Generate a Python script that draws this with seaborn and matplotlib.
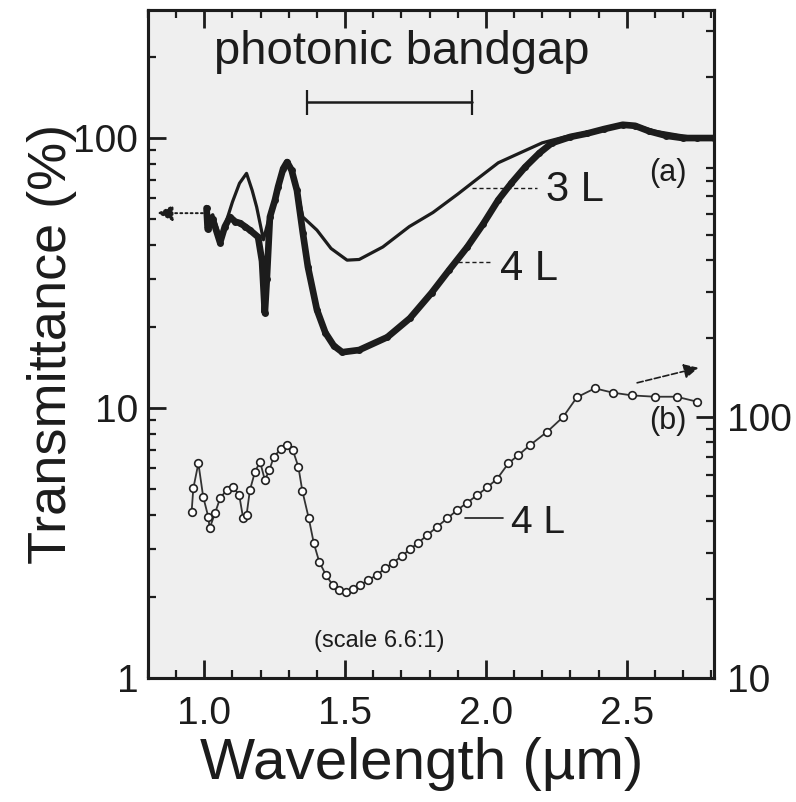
import matplotlib
matplotlib.use("Agg")
import matplotlib.pyplot as plt
import seaborn as sns
from matplotlib.ticker import MultipleLocator, LogLocator, NullFormatter, FixedLocator, FixedFormatter

# ---------------- data ----------------
# curve (a), 3 layers (thin line), transmittance in %
wl_3L = [1.008, 1.03, 1.056, 1.075, 1.10, 1.125, 1.15, 1.17, 1.186, 1.21, 1.233, 1.25,
         1.27, 1.29, 1.31, 1.33, 1.35, 1.40, 1.45, 1.507, 1.55, 1.634, 1.728, 1.812,
         1.90, 1.965, 2.044, 2.12, 2.20, 2.28, 2.36, 2.43, 2.486, 2.55, 2.60, 2.68, 2.75, 2.81]
T_3L = [50, 52, 43, 48, 58, 68, 74, 64, 55.5, 42, 52, 60,
        70, 80, 78, 64, 51, 45.6, 39, 35.3, 35.5, 39.5, 47, 53,
        62, 70, 81, 88, 96, 101, 105, 109, 112, 110, 106, 102.6, 100, 100]

# curve (a), 4 layers (thick dotted line)
wl_4L = [1.008, 1.012, 1.03, 1.056, 1.073, 1.091, 1.11, 1.127, 1.145, 1.162, 1.191, 1.205,
         1.215, 1.222, 1.233, 1.251, 1.262, 1.28, 1.294, 1.31, 1.329, 1.35, 1.368, 1.40,
         1.43, 1.46, 1.49, 1.55, 1.65, 1.73, 1.807, 1.87, 1.934, 1.99, 2.044, 2.09, 2.139,
         2.19, 2.234, 2.30, 2.36, 2.42, 2.486, 2.53, 2.58, 2.64, 2.70, 2.75, 2.81]
T_4L = [55, 46, 50, 41, 47, 51, 49, 48.4, 47, 45.6, 43, 35,
        22.5, 30, 51, 59, 66, 77, 81.5, 76, 64, 44.5, 33.3, 23.1,
        19, 17, 16.1, 16.4, 18.3, 21.5, 26.7, 32.5, 39.5, 48, 59, 68, 78,
        88, 95.8, 101, 104, 108, 112, 111, 106, 102, 100, 100, 100]

# curve (b), 4 layers, plotted against the right axis
wl_b = [0.955, 0.961, 0.979, 0.996, 1.014, 1.019, 1.038, 1.056, 1.079, 1.103, 1.124, 1.138,
        1.150, 1.162, 1.180, 1.198, 1.215, 1.231, 1.247, 1.271, 1.293, 1.314, 1.334, 1.348,
        1.371, 1.389, 1.408, 1.432, 1.456, 1.479, 1.503, 1.527, 1.553, 1.582, 1.612, 1.642,
        1.671, 1.701, 1.730, 1.760, 1.792, 1.827, 1.863, 1.898, 1.934, 1.969, 2.005, 2.04,
        2.08, 2.115, 2.157, 2.217, 2.274, 2.323, 2.387, 2.45, 2.519, 2.60, 2.677, 2.748]
T_b = [43.4, 53.3, 66.5, 49.5, 41.5, 37.5, 42.8, 48.8, 52.5, 53.8, 50.2, 40.9,
       42.1, 52.5, 61.7, 67.4, 57.4, 62.6, 70.5, 75.2, 78.1, 74.8, 64.5, 52.2,
       40.9, 32.8, 27.9, 24.8, 22.7, 21.7, 21.4, 21.9, 22.7, 23.7, 24.8, 26.3,
       27.7, 29.3, 31.1, 33.0, 35.3, 38.0, 40.9, 44.0, 47.0, 50.2, 53.8, 58.0,
       66.5, 71.4, 78.1, 87.7, 100, 119, 128.8, 124, 121, 119.6, 119.6, 114.6]

x_ticks = [1.0, 1.5, 2.0, 2.5]
x_tick_labels = ["1.0", "1.5", "2.0", "2.5"]
y_left_ticks = [1, 10, 100]
y_left_labels = ["1", "10", "100"]
y_right_ticks = [10, 100]
y_right_labels = ["10", "100"]
bandgap = [1.365, 1.95]
bandgap_level = 136

# ---------------- figure ----------------
sns.set_theme(style="ticks")
plt.rcParams['font.family'] = ['Liberation Sans', 'DejaVu Sans']
INK = '#1c1c1c'

fig = plt.figure(figsize=(7.96, 8.02), dpi=100)
fig.patch.set_facecolor('white')
ax = fig.add_axes([0.1859, 0.1546, 0.7111, 0.8329])
ax.set_facecolor('#efefef')

sns.lineplot(x=wl_3L, y=T_3L, ax=ax, color=INK, lw=2.3, sort=False, estimator=None)
sns.lineplot(x=wl_4L, y=T_4L, ax=ax, color=INK, lw=4.8, sort=False, estimator=None,
             marker='o', markersize=5, markeredgewidth=0)

ax.set_yscale('log')
ax.set_xlim(0.80, 2.81)
ax.set_ylim(1, 298)

ax2 = ax.twinx()
sns.lineplot(x=wl_b, y=T_b, ax=ax2, color='#333333', lw=1.3, sort=False, estimator=None,
             marker='o', markersize=5.5, markerfacecolor='white',
             markeredgecolor='#222222', markeredgewidth=1.2)
ax2.set_yscale('log')
ax2.set_ylim(10, 10 ** (1 + 668 / 261))
ax2.set_xlim(0.80, 2.81)

# ticks
ax.xaxis.set_major_locator(FixedLocator(x_ticks))
ax.xaxis.set_major_formatter(FixedFormatter(x_tick_labels))
ax.xaxis.set_minor_locator(MultipleLocator(0.1))
ax.yaxis.set_major_locator(FixedLocator(y_left_ticks))
ax.yaxis.set_major_formatter(FixedFormatter(y_left_labels))
ax.yaxis.set_minor_locator(LogLocator(base=10, subs=range(2, 10)))
ax.yaxis.set_minor_formatter(NullFormatter())
ax2.yaxis.set_major_locator(FixedLocator(y_right_ticks))
ax2.yaxis.set_major_formatter(FixedFormatter(y_right_labels))
ax2.yaxis.set_minor_locator(LogLocator(base=10, subs=range(2, 10)))
ax2.yaxis.set_minor_formatter(NullFormatter())

ax.tick_params(axis='both', which='both', direction='in', top=True, right=False,
               color=INK, labelcolor=INK)
ax.tick_params(which='major', length=13, width=2.0, labelsize=28)
ax.tick_params(which='minor', length=6, width=1.6)
ax.tick_params(axis='x', which='major', pad=13)
ax.tick_params(axis='y', which='major', pad=7)
ax2.tick_params(axis='y', which='both', direction='in', left=False, right=True,
                color=INK, labelcolor=INK)
ax2.tick_params(axis='y', which='major', length=13, width=2.0, labelsize=28, pad=9)
ax2.tick_params(axis='y', which='minor', length=6, width=1.6)

for a in (ax, ax2):
    for s in a.spines.values():
        s.set_linewidth(2.2)
        s.set_color(INK)
        s.set_visible(True)
ax2.set_ylabel('')

ax.set_xlabel('Wavelength (µm)', fontsize=42, color=INK)
ax.set_ylabel('Transmittance (%)', fontsize=39, color=INK)
ax.xaxis.set_label_coords(0.484, -0.088)
ax.yaxis.set_label_coords(-0.125, 0.5)

# annotations
ax.text(1.70, 208, 'photonic bandgap', fontsize=34, color=INK, ha='center', va='center')
ax.plot(bandgap, [bandgap_level, bandgap_level], color=INK, lw=1.8)
ax.plot(bandgap, [bandgap_level, bandgap_level], ls='none', marker='|', markersize=18,
        markeredgewidth=1.6, color=INK)

ax.plot([1.95, 2.18], [65.3, 65.3], color=INK, lw=1.0, ls=(0, (3, 2)))
ax.text(2.215, 64, '3 L', fontsize=30, color=INK, ha='left', va='center')
ax.plot([1.902, 2.02], [34.7, 34.7], color=INK, lw=1.0, ls=(0, (3, 2)))
ax.text(2.05, 32.7, '4 L', fontsize=30, color=INK, ha='left', va='center')
ax.text(2.58, 74, '(a)', fontsize=22, color=INK, ha='left', va='center')

ax.plot([1.927, 2.06], [3.9, 3.9], color=INK, lw=1.2)
ax.text(2.09, 3.75, '4 L', fontsize=28, color=INK, ha='left', va='center')
ax.text(2.58, 8.95, '(b)', fontsize=22, color=INK, ha='left', va='center')
ax.text(1.62, 1.37, '(scale 6.6:1)', fontsize=17, color=INK, ha='center', va='center')

ax.annotate('', xy=(0.832, 52.7), xytext=(0.995, 52.7),
            arrowprops=dict(arrowstyle='-|>', linestyle=':', color=INK, lw=1.4,
                            mutation_scale=24, shrinkA=0, shrinkB=0))
ax.annotate('', xy=(2.755, 14.1), xytext=(2.537, 12.4),
            arrowprops=dict(arrowstyle='-|>', linestyle='--', color=INK, lw=1.2,
                            mutation_scale=22, shrinkA=0, shrinkB=0))

fig.savefig('out.png', dpi=100, facecolor='white')
